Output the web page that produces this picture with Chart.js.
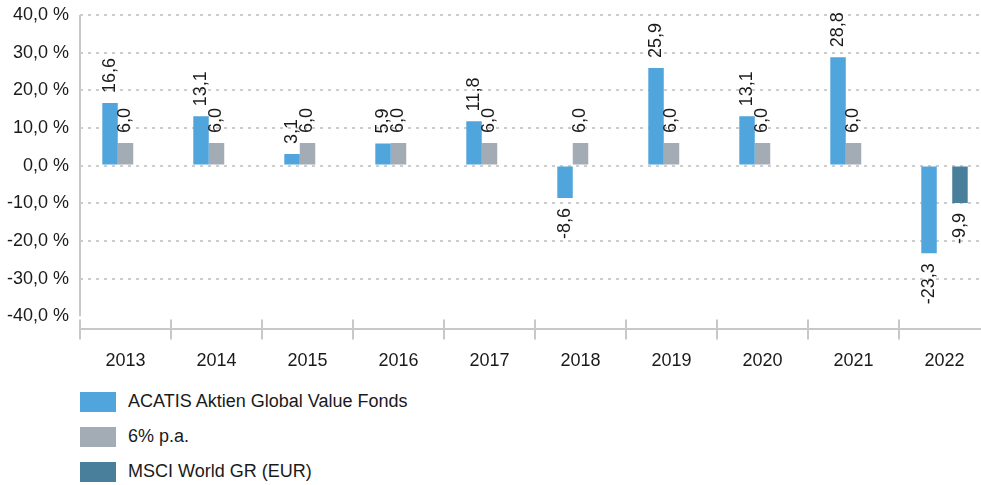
<!DOCTYPE html>
<html lang="de">
<head>
<meta charset="utf-8">
<title>Wertentwicklung</title>
<script src="https://cdn.jsdelivr.net/npm/chart.js@4.4.1/dist/chart.umd.min.js"></script>
<style>
    body { margin: 0; background: #fff; overflow: hidden; font-family: "Liberation Sans", Arial, sans-serif; }
    #chartContainer { position: relative; width: 990px; height: 383px; }
    #legende { margin: 1px 0 0 80px; }
    .leg-item { display: flex; align-items: center; height: 35px; font-size: 18px; color: #1a1a1a; }
    .leg-box { width: 36px; height: 20px; margin-right: 12px; }
</style>
</head>
<body>
<div id="chartContainer"><canvas id="renditeChart"></canvas></div>
<div id="legende"></div>

<script>
// Daten aus der Grafik
const jahre = ["2013", "2014", "2015", "2016", "2017", "2018", "2019", "2020", "2021", "2022"];
const acatis = [16.6, 13.1, 3.1, 5.9, 11.8, -8.6, 25.9, 13.1, 28.8, -23.3];
const sechsProzent = [6.0, 6.0, 6.0, 6.0, 6.0, 6.0, 6.0, 6.0, 6.0, null];
const msciWorld = [null, null, null, null, null, null, null, null, null, -9.9];
const yTicks = [40, 30, 20, 10, 0, -10, -20, -30, -40];

const serien = [
    { label: "ACATIS Aktien Global Value Fonds", data: acatis, color: "#50a5dc" },
    { label: "6% p.a.", data: sechsProzent, color: "#a3acb5" },
    { label: "MSCI World GR (EUR)", data: msciWorld, color: "#4a7f9b" }
];

const achsenFarbe = "#c8c8c8";
const textFarbe = "#1a1a1a";

function formatWert(v) {
    return v.toFixed(1).replace(".", ",");
}

// Beschriftung der Balken (gedreht) und kleine Striche an der X-Achse
const balkenLabels = {
    id: "balkenLabels",
    afterDatasetsDraw(chart) {
        const ctx = chart.ctx;
        ctx.save();
        ctx.font = "18px 'Liberation Sans', Arial, sans-serif";
        ctx.fillStyle = textFarbe;
        ctx.textBaseline = "middle";
        chart.data.datasets.forEach((ds, i) => {
            const meta = chart.getDatasetMeta(i);
            meta.data.forEach((bar, j) => {
                const v = ds.data[j];
                if (v === null || v === undefined) return;
                ctx.save();
                ctx.translate(bar.x, bar.y);
                ctx.rotate(-Math.PI / 2);
                ctx.textAlign = v >= 0 ? "left" : "right";
                ctx.fillText(formatWert(v), v >= 0 ? 10 : -10, 0);
                ctx.restore();
            });
        });
        ctx.restore();
    },
    afterDraw(chart) {
        const ctx = chart.ctx;
        const x = chart.scales.x;
        const y = chart.scales.y;
        const area = chart.chartArea;
        const breite = x.width / jahre.length;
        ctx.save();
        ctx.strokeStyle = achsenFarbe;
        ctx.lineWidth = 2;
        // Y-Achse nur von 40 bis -40
        ctx.beginPath();
        ctx.moveTo(area.left, y.getPixelForValue(40));
        ctx.lineTo(area.left, y.getPixelForValue(-40));
        ctx.stroke();
        // Striche oberhalb der X-Achse
        for (let i = 0; i <= jahre.length; i++) {
            const px = x.getPixelForValue(0) - breite / 2 + i * breite;
            ctx.beginPath();
            ctx.moveTo(px, area.bottom - 10);
            ctx.lineTo(px, area.bottom);
            ctx.stroke();
        }
        ctx.restore();
    }
};

function zeichneDiagramm() {
    const ctx = document.getElementById("renditeChart").getContext("2d");

    const chart = new Chart(ctx, {
        type: "bar",
        data: {
            labels: jahre,
            datasets: serien.map(s => ({
                label: s.label,
                data: s.data,
                backgroundColor: s.color,
                borderWidth: 0,
                barPercentage: 1.0,
                categoryPercentage: 0.51
            }))
        },
        options: {
            responsive: true,
            maintainAspectRatio: false,
            animation: false,
            layout: { padding: { top: 15, right: 0, bottom: 0, left: 0 } },
            plugins: {
                legend: { display: false },
                tooltip: { enabled: false }
            },
            scales: {
                x: {
                    offset: true,
                    grid: {
                        display: true,
                        drawOnChartArea: false,
                        drawTicks: true,
                        tickLength: 10,
                        color: achsenFarbe,
                        lineWidth: 2
                    },
                    border: { display: true, color: achsenFarbe, width: 2 },
                    ticks: {
                        color: textFarbe,
                        padding: 11,
                        font: { family: "'Liberation Sans', Arial, sans-serif", size: 18 }
                    }
                },
                y: {
                    min: -43.5,
                    max: 40,
                    afterBuildTicks: axis => { axis.ticks = yTicks.map(v => ({ value: v })); },
                    afterFit: scale => {
                        scale.width = 80;
                        scale.paddingTop = 0;
                        scale.paddingBottom = 0;
                    },
                    grid: {
                        drawTicks: false,
                        color: c => (c.tick && c.tick.value === -40) ? "rgba(0,0,0,0)" : "#cccccc",
                        lineWidth: 2
                    },
                    border: { display: false, dash: [3, 5] },
                    ticks: {
                        color: textFarbe,
                        padding: 11,
                        font: { family: "'Liberation Sans', Arial, sans-serif", size: 18 },
                        callback: v => formatWert(v) + " %"
                    }
                }
            }
        },
        plugins: [balkenLabels]
    });
    console.log("Chart-Bereich:", chart.chartArea);

    // Legende als HTML untereinander
    const legende = document.getElementById("legende");
    serien.forEach(s => {
        const item = document.createElement("div");
        item.className = "leg-item";
        item.innerHTML = '<span class="leg-box" style="background:' + s.color + '"></span>' + s.label;
        legende.appendChild(item);
    });

    console.log("Diagramm gezeichnet.");
}

document.addEventListener("DOMContentLoaded", zeichneDiagramm);
</script>
</body>
</html>
